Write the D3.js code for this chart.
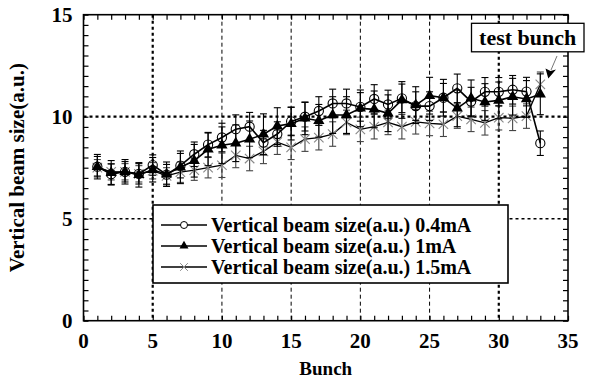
<!DOCTYPE html>
<html lang="en">
<head>
<meta charset="utf-8">
<title>Vertical beam size vs bunch</title>
<script src="https://d3js.org/d3.v7.min.js"></script>
<style>
    body { margin: 0; background: #fff; }
    text { font-family: "Liberation Serif", "Times New Roman", serif; font-weight: bold; fill: #000; }
</style>
</head>
<body>
<svg id="chart" width="589" height="387"></svg>
<script>
// data
let bunch = [1, 2, 3, 4, 5, 6, 7, 8, 9, 10, 11, 12, 13, 14, 15, 16, 17, 18, 19, 20,
             21, 22, 23, 24, 25, 26, 27, 28, 29, 30, 31, 32, 33];

let size04 = [7.55, 7.18, 7.30, 7.20, 7.63, 7.16, 7.60, 8.16, 8.63, 8.98, 9.39, 9.51, 8.73, 9.15, 9.77, 10.00, 10.28,
              10.65, 10.65, 10.48, 10.87, 10.60, 10.90, 10.52, 10.52, 10.93, 11.39, 10.74, 11.22, 11.22, 11.32, 11.23, 8.70];
let err04  = [0.5, 0.5, 0.5, 0.5, 0.5, 0.5, 0.6, 0.6, 0.6, 0.7, 0.7, 0.7, 0.6, 0.6, 0.7, 0.7, 0.7,
              0.7, 0.7, 0.7, 0.7, 0.7, 0.7, 0.7, 0.7, 0.7, 0.7, 0.7, 0.7, 0.7, 0.7, 0.7, 0.6];

let size1  = [7.55, 7.25, 7.30, 7.15, 7.40, 7.18, 7.52, 7.84, 8.40, 8.60, 8.70, 8.89, 9.14, 9.54, 9.66, 9.92, 9.80,
              10.08, 10.08, 10.41, 10.36, 10.17, 10.82, 10.57, 11.03, 10.93, 10.41, 10.90, 10.72, 10.80, 10.98, 10.87, 11.10];
let err1   = [0.6, 0.6, 0.6, 0.6, 0.6, 0.6, 0.8, 0.8, 0.8, 0.9, 0.9, 0.9, 1.0, 0.9, 0.8, 0.8, 0.8,
              0.9, 0.9, 0.9, 0.9, 0.9, 0.9, 0.9, 0.9, 0.9, 0.9, 0.9, 0.9, 0.9, 0.9, 0.9, 1.0];

let size15 = [7.50, 7.30, 7.30, 7.20, 7.35, 7.10, 7.28, 7.38, 7.50, 7.62, 8.10, 7.95, 8.30, 8.75, 8.50, 8.90, 8.97,
              9.15, 9.72, 9.38, 9.51, 9.72, 9.51, 9.75, 9.67, 9.63, 10.03, 9.87, 9.70, 9.95, 9.92, 10.03, 11.59];
let err15  = [0.4, 0.4, 0.4, 0.4, 0.4, 0.4, 0.5, 0.5, 0.5, 0.6, 0.6, 0.6, 0.6, 0.6, 0.6, 0.6, 0.6,
              0.6, 0.6, 0.6, 0.6, 0.6, 0.6, 0.6, 0.6, 0.6, 0.6, 0.6, 0.6, 0.6, 0.6, 0.6, 0.6];

let xTicks = [0, 5, 10, 15, 20, 25, 30, 35];
let yTicks = [0, 5, 10, 15];
let legendLabels = ["Vertical beam size(a.u.) 0.4mA",
                    "Vertical beam size(a.u.) 1mA",
                    "Vertical beam size(a.u.) 1.5mA"];

let svg = d3.select("#chart");

let plot = {left: 83.5, right: 568, top: 14.7, bottom: 320.7};

let xScale = d3.scaleLinear().domain([0, 35]).range([plot.left, plot.right]);
let yScale = d3.scaleLinear().domain([0, 15]).range([plot.bottom, plot.top]);

// grid, dotted
let grid = svg.append("g").attr("class", "grid");
grid.selectAll(".gx")
    .data(xTicks.filter(d => d > 0 && d < 35))
    .enter().append("line")
    .attr("x1", d => xScale(d)).attr("x2", d => xScale(d))
    .attr("y1", plot.top).attr("y2", plot.bottom)
    .attr("stroke", "#000")
    .attr("stroke-width", d => (d === 5 || d === 30) ? 2.2 : 1)
    .attr("stroke-dasharray", d => (d === 5 || d === 30) ? "3,3" : "4,3");
grid.selectAll(".gy")
    .data(yTicks.filter(d => d > 0 && d < 15))
    .enter().append("line")
    .attr("x1", plot.left).attr("x2", plot.right)
    .attr("y1", d => yScale(d)).attr("y2", d => yScale(d))
    .attr("stroke", "#000")
    .attr("stroke-width", d => d === 10 ? 2.2 : 1.5)
    .attr("stroke-dasharray", "3,3");

// axes with inward minor ticks on all four sides
let xMinor = d3.range(0, 36, 1);
let yMinor = d3.range(0, 15.01, 0.5);

svg.append("g")
    .attr("transform", "translate(0," + plot.bottom + ")")
    .call(d3.axisBottom(xScale).tickValues(xMinor).tickSize(-5).tickFormat(""))
    .call(g => g.select(".domain").remove());
svg.append("g")
    .attr("transform", "translate(0," + plot.top + ")")
    .call(d3.axisTop(xScale).tickValues(xMinor).tickSize(-5).tickFormat(""))
    .call(g => g.select(".domain").remove());
svg.append("g")
    .attr("transform", "translate(" + plot.left + ",0)")
    .call(d3.axisLeft(yScale).tickValues(yMinor).tickSize(-5).tickFormat(""))
    .call(g => g.select(".domain").remove());
svg.append("g")
    .attr("transform", "translate(" + plot.right + ",0)")
    .call(d3.axisRight(yScale).tickValues(yMinor).tickSize(-5).tickFormat(""))
    .call(g => g.select(".domain").remove());
svg.selectAll(".tick line").attr("stroke", "#000").attr("stroke-width", 1.2);

// tick labels
svg.append("g").selectAll("text")
    .data(xTicks)
    .enter().append("text")
    .attr("x", d => xScale(d))
    .attr("y", plot.bottom + 27)
    .attr("text-anchor", "middle")
    .attr("font-size", 21)
    .text(d => d);
svg.append("g").selectAll("text")
    .data(yTicks)
    .enter().append("text")
    .attr("x", plot.left - 11)
    .attr("y", d => yScale(d) + 7)
    .attr("text-anchor", "end")
    .attr("font-size", 21)
    .text(d => d);

// axis titles
svg.append("text")
    .attr("x", (plot.left + plot.right) / 2)
    .attr("y", 375)
    .attr("text-anchor", "middle")
    .attr("font-size", 19)
    .text("Bunch");
svg.append("text")
    .attr("transform", "translate(24," + (plot.top + plot.bottom) / 2 + ") rotate(-90)")
    .attr("text-anchor", "middle")
    .attr("font-size", 21)
    .text("Vertical beam size(a.u.)");

// series
let series = [
    {name: "s15", y: size15, e: err15, marker: "cross", width: 1.3, barColor: "#444"},
    {name: "s1",  y: size1,  e: err1,  marker: "triangle", width: 1.6, barColor: "#000"},
    {name: "s04", y: size04, e: err04, marker: "circle", width: 1.6, barColor: "#000"}
];

let line = d3.line()
    .x(d => xScale(d.x))
    .y(d => yScale(d.y));

function drawMarker(sel, kind) {
    if (kind === "circle") {
        sel.append("circle").attr("r", 4.6)
            .attr("fill", "none").attr("stroke", "#000").attr("stroke-width", 1.1);
    } else if (kind === "triangle") {
        sel.append("path").attr("d", d3.symbol().type(d3.symbolTriangle).size(55))
            .attr("fill", "#000");
    } else {
        sel.append("path").attr("d", d3.symbol().type(d3.symbolX).size(60))
            .attr("fill", "none").attr("stroke", "#888").attr("stroke-width", 1.1);
    }
}

series.forEach(s => {
    let pts = bunch.map((b, i) => ({x: b, y: s.y[i], e: s.e[i]}));
    let g = svg.append("g").attr("class", s.name);

    // error bars
    let bars = g.selectAll(".bar").data(pts).enter().append("g")
        .attr("stroke", s.barColor).attr("stroke-width", 1.1);
    bars.append("line")
        .attr("x1", d => xScale(d.x)).attr("x2", d => xScale(d.x))
        .attr("y1", d => yScale(d.y - d.e)).attr("y2", d => yScale(d.y + d.e));
    bars.append("line")
        .attr("x1", d => xScale(d.x) - 3.5).attr("x2", d => xScale(d.x) + 3.5)
        .attr("y1", d => yScale(d.y + d.e)).attr("y2", d => yScale(d.y + d.e));
    bars.append("line")
        .attr("x1", d => xScale(d.x) - 3.5).attr("x2", d => xScale(d.x) + 3.5)
        .attr("y1", d => yScale(d.y - d.e)).attr("y2", d => yScale(d.y - d.e));

    g.append("path")
        .datum(pts)
        .attr("d", line)
        .attr("fill", "none")
        .attr("stroke", "#000")
        .attr("stroke-width", s.width);

    let marks = g.selectAll(".mark").data(pts).enter().append("g")
        .attr("transform", d => "translate(" + xScale(d.x) + "," + yScale(d.y) + ")");
    drawMarker(marks, s.marker);
});

// frame
svg.append("rect")
    .attr("x", plot.left).attr("y", plot.top)
    .attr("width", plot.right - plot.left).attr("height", plot.bottom - plot.top)
    .attr("fill", "none").attr("stroke", "#000").attr("stroke-width", 1.6);

// legend
let legend = svg.append("g").attr("transform", "translate(153,205)");
legend.append("rect")
    .attr("width", 355).attr("height", 78)
    .attr("fill", "#fff").attr("stroke", "#000").attr("stroke-width", 1.6);
let legendMarks = ["circle", "triangle", "cross"];
legendLabels.forEach((label, i) => {
    let row = legend.append("g").attr("transform", "translate(0," + (20 + i * 21) + ")");
    row.append("line")
        .attr("x1", 8).attr("x2", 54).attr("y1", 0).attr("y2", 0)
        .attr("stroke", "#000").attr("stroke-width", 1.3);
    let m = row.append("g").attr("transform", "translate(31,0)");
    if (legendMarks[i] === "circle") {
        m.append("circle").attr("r", 3.5).attr("fill", "#fff").attr("stroke", "#000").attr("stroke-width", 1);
    } else if (legendMarks[i] === "triangle") {
        m.append("path").attr("d", d3.symbol().type(d3.symbolTriangle).size(35)).attr("fill", "#000");
    } else {
        m.append("path").attr("d", d3.symbol().type(d3.symbolX).size(40))
            .attr("fill", "none").attr("stroke", "#888").attr("stroke-width", 1);
    }
    row.append("text")
        .attr("x", 58).attr("y", 6.5)
        .attr("font-size", 20)
        .text(label);
});

// "test bunch" callout
let note = svg.append("g");
note.append("rect")
    .attr("x", 471.5).attr("y", 23.3).attr("width", 112.5).attr("height", 28.5)
    .attr("fill", "#fff").attr("stroke", "#000").attr("stroke-width", 1.3);
note.append("text")
    .attr("x", 527.7).attr("y", 45)
    .attr("text-anchor", "middle")
    .attr("font-size", 22)
    .text("test bunch");
note.append("line")
    .attr("x1", 557).attr("y1", 56).attr("x2", 551).attr("y2", 70)
    .attr("stroke", "#777").attr("stroke-width", 1);
note.append("path")
    .attr("d", "M548.3,78.5 L545.5,68.5 L550.5,71 L556,69.5 Z")
    .attr("fill", "#000");
</script>
</body>
</html>
